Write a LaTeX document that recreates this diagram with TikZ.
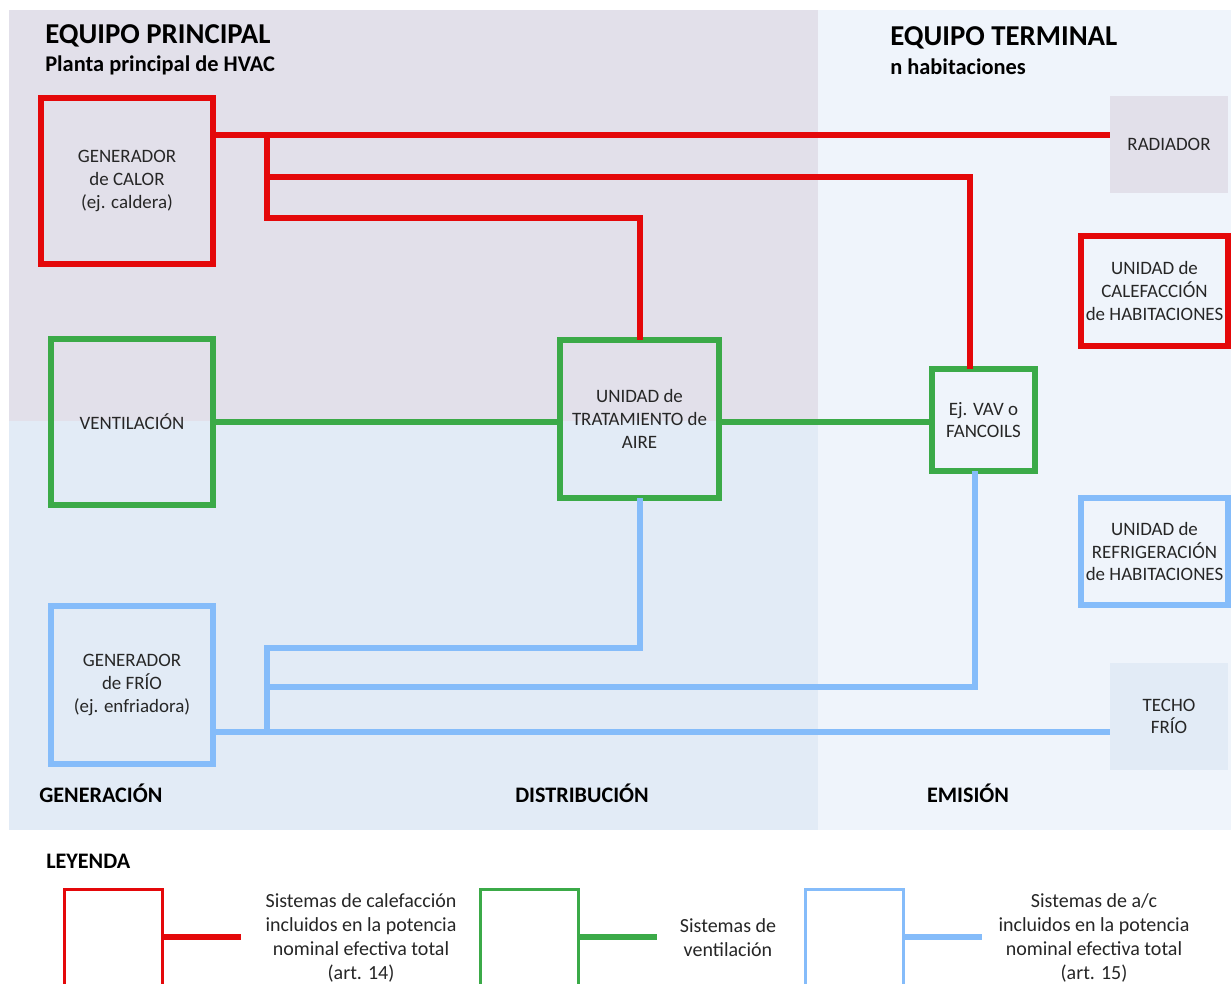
\documentclass[tikz,border=0pt]{standalone}
\usepackage{fontspec}
\setmainfont{Carlito}
\usepackage{tikz}
\usetikzlibrary{positioning}
\pgfdeclarelayer{background}
\pgfdeclarelayer{foreground}
\pgfsetlayers{background,main,foreground}
\definecolor{heatred}{RGB}{228,8,10}
\definecolor{airgreen}{RGB}{59,170,72}
\definecolor{coldblue}{RGB}{133,188,250}
\definecolor{plantgrey}{RGB}{226,224,234}
\definecolor{distblue}{RGB}{226,235,246}
\definecolor{termblue}{RGB}{239,244,251}
\tikzstyle{unitbox} = [text centered, align=center, inner sep=0pt, outer sep=0pt, text=black!85, font=\fontsize{14.2}{17}\selectfont]
\tikzstyle{heatunit} = [unitbox, draw=heatred, line width=4.5pt]
\tikzstyle{airunit} = [unitbox, draw=airgreen, line width=4.5pt]
\tikzstyle{coldunit} = [unitbox, draw=coldblue, line width=4.5pt]
\tikzstyle{emitter} = [unitbox, minimum width=88.5pt]
\tikzstyle{legendkey} = [draw, line width=2.2pt, minimum width=73.5pt, minimum height=92pt, inner sep=0pt, outer sep=0pt]
\tikzstyle{legendtext} = [text centered, align=center, inner sep=0pt, text=black!85, font=\fontsize{15}{18}\selectfont]
\tikzstyle{maintitle} = [anchor=base west, inner sep=0pt, font=\fontsize{21.6}{24}\selectfont\bfseries]
\tikzstyle{subtitle} = [anchor=base west, inner sep=0pt, font=\fontsize{16.8}{20}\selectfont\bfseries]
\tikzstyle{stagelabel} = [anchor=base, inner sep=0pt, font=\fontsize{16.6}{20}\selectfont\bfseries]
\tikzstyle{heatpipe} = [draw, line width=4.5pt, color=heatred]
\tikzstyle{airpipe} = [draw, line width=4.5pt, color=airgreen]
\tikzstyle{coldpipe} = [draw, line width=4.5pt, color=coldblue]
\newcommand{\heatunit}[3]{node (h#1) [heatunit,#2] {#3}}
\newcommand{\airunit}[3]{node (a#1) [airunit,#2] {#3}}
\newcommand{\coldunit}[3]{node (c#1) [coldunit,#2] {#3}}
\newcommand{\emitter}[3]{node (e#1) [emitter,#2] {#3}}
\newcommand{\zones}{%
\begin{pgfonlayer}{background}
\fill[white] (0,0) rectangle (1231,984);
\fill[plantgrey] (9,10) rectangle (818,421);
\fill[distblue] (9,421) rectangle (818,830);
\fill[termblue] (818,10) rectangle (1231,830);
\end{pgfonlayer}}

\begin{document}
\begin{tikzpicture}[x=0.75pt,y=-0.75pt]
\useasboundingbox (0,0) rectangle (1231,984);
\clip (0,0) rectangle (1231,984);

\path (45,44) node (t1) [maintitle] {EQUIPO PRINCIPAL};
\path (45,72) node (t2) [subtitle] {Planta principal de HVAC};
\path (890,46) node (t3) [maintitle] {EQUIPO TERMINAL};
\path (890,75) node (t4) [subtitle] {n habitaciones};

% generacion
\path (127,181) \heatunit{1}{minimum width=129pt, minimum height=124.5pt}{GENERADOR\\de CALOR\\(ej. caldera)};
\path (h1)+(5,241) \airunit{1}{minimum width=121.5pt, minimum height=124.5pt}{VENTILACIÓN};
\path (a1)+(0,263) \coldunit{1}{minimum width=121.5pt, minimum height=118.5pt}{GENERADOR\\de FRÍO\\(ej. enfriadora)};

% distribucion
\path (a1)+(507.5,-3) \airunit{2}{minimum width=119.25pt, minimum height=118.5pt}{UNIDAD de\\TRATAMIENTO de\\AIRE};
\path (a2)+(344,1) \airunit{3}{minimum width=77.25pt, minimum height=76.5pt}{Ej. VAV o\\FANCOILS};

% emision
\path (h1)+(1042,-36.5) \emitter{1}{fill=plantgrey, minimum height=72.75pt}{RADIADOR};
\path (e1)+(-14.5,146.5) \heatunit{2}{minimum width=110.25pt, minimum height=82.5pt}{UNIDAD de\\CALEFACCIÓN\\de HABITACIONES};
\path (h2)+(0,260.5) \coldunit{2}{minimum width=110.25pt, minimum height=80.25pt}{UNIDAD de\\REFRIGERACIÓN\\de HABITACIONES};
\path (c2)+(14.5,165) \emitter{2}{fill=distblue, minimum height=80.25pt}{TECHO\\FRÍO};

% tuberias
\coordinate (r1) at (267,135.5);
\coordinate (r2) at (267,177);
\coordinate (r3) at (267,218);
\path [heatpipe] (h1.east |- r1) -- (e1.west |- r1);
\path [heatpipe] (r1) -- (r3) -| (a2.north);
\path [heatpipe] (r2) -| ([xshift=-10pt]a3.north);

\path [airpipe] (a1.east) -- (a1.east -| a2.west);
\path [airpipe] (a2.east |- a1.east) -- (a3.west |- a1.east);

\coordinate (b1) at (267,647.5);
\coordinate (b2) at (267,686.5);
\coordinate (b3) at (267,731.5);
\path [coldpipe] (a2.south) |- (b1) -- (b3);
\path [coldpipe] ([xshift=-6.4pt]a3.south) |- (b2);
\path [coldpipe] (c1.east |- b3) -- (e2.west |- b3);

\path (39,802) node (s1) [stagelabel, anchor=base west] {GENERACIÓN};
\path (582,802) node (s2) [stagelabel] {DISTRIBUCIÓN};
\path (968,802) node (s3) [stagelabel] {EMISIÓN};

% leyenda
\path (46,868) node (s4) [stagelabel, anchor=base west] {LEYENDA};
\path (113.5,951) node (k1) [legendkey, draw=heatred] {};
\path (529.5,951) node (k2) [legendkey, draw=airgreen] {};
\path (854.5,951) node (k3) [legendkey, draw=coldblue] {};
\coordinate (q1) at (241,937);
\coordinate (q2) at (657,937);
\coordinate (q3) at (982,937);
\path [heatpipe] (k1.east |- q1) -- (q1);
\path [airpipe] (k2.east |- q2) -- (q2);
\path [coldpipe] (k3.east |- q3) -- (q3);
\path (361,938) node (n1) [legendtext] {Sistemas de calefacción\\incluidos en la potencia\\nominal efectiva total\\(art. 14)};
\path (728,938) node (n2) [legendtext] {Sistemas de\\ventilación};
\path (1094,938) node (n3) [legendtext] {Sistemas de a/c\\incluidos en la potencia\\nominal efectiva total\\(art. 15)};

\zones{}
\end{tikzpicture}
\end{document}
